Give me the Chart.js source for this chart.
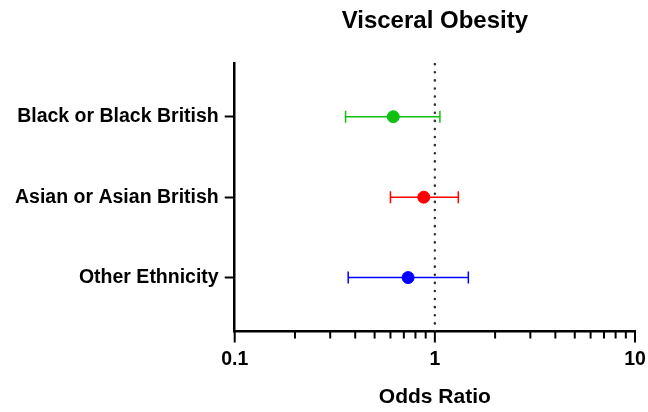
<!DOCTYPE html>
<html lang="en">
<head>
    <meta charset="UTF-8">
    <title>Visceral Obesity</title>
    <style>
        body { margin: 0; background: #fff; }
        #chart { display: block; }
    </style>
</head>
<body>
    <canvas id="chart" width="648" height="412"></canvas>

    <script src="https://cdn.jsdelivr.net/npm/chart.js"></script>
    <script>
        // data
        const categories = ['Black or Black British', 'Asian or Asian British', 'Other Ethnicity'];
        const oddsRatio = [0.62, 0.88, 0.735];
        const lowerCI = [0.358, 0.60, 0.369];
        const upperCI = [1.06, 1.31, 1.47];
        const colors = ['#10C010', '#FF0000', '#0000FF'];
        const xTickLabels = ['0.1', '1', '10'];
        const refValue = 1;

        const yMin = 0.33;
        const yMax = categories.length + 0.67;
        const fontFamily = 'Arial, "Liberation Sans", sans-serif';

        const datasets = [];

        // dotted reference line at OR = 1
        datasets.push({
            type: 'line',
            data: [{ x: refValue, y: yMin }, { x: refValue, y: yMax }],
            borderColor: '#333',
            borderWidth: 2.5,
            borderDash: [0.1, 8],
            borderCapStyle: 'round',
            pointRadius: 0,
            order: 10
        });

        categories.forEach(function(cat, i) {
            const y = categories.length - i;
            // error bar with caps
            datasets.push({
                type: 'line',
                data: [{ x: lowerCI[i], y: y }, { x: upperCI[i], y: y }],
                borderColor: colors[i],
                borderWidth: 1.5,
                pointStyle: 'line',
                pointRotation: 90,
                pointRadius: 6,
                pointBorderWidth: 1.5,
                pointBorderColor: colors[i],
                order: 2
            });
            // point estimate
            datasets.push({
                type: 'scatter',
                data: [{ x: oddsRatio[i], y: y }],
                backgroundColor: colors[i],
                borderColor: colors[i],
                pointRadius: 6,
                order: 1
            });
        });

        // log axis tick marks: long at decades, short in between
        const logTicksPlugin = {
            id: 'logTicks',
            afterDraw(chart) {
                const scale = chart.scales.x;
                const ctx = chart.ctx;
                const bottom = chart.chartArea.bottom;
                ctx.save();
                ctx.strokeStyle = '#000';
                ctx.lineWidth = 2;
                scale.ticks.forEach(function(t) {
                    const px = scale.getPixelForValue(t.value);
                    const major = Math.abs(Math.log10(t.value) - Math.round(Math.log10(t.value))) < 1e-6;
                    ctx.beginPath();
                    ctx.moveTo(px, bottom);
                    ctx.lineTo(px, bottom + (major ? 11 : 7));
                    ctx.stroke();
                });
                ctx.restore();
            }
        };

        new Chart(document.getElementById('chart'), {
            type: 'scatter',
            data: { datasets: datasets },
            options: {
                responsive: false,
                animation: false,
                layout: { padding: { left: 9, right: 13, top: 0, bottom: 4 } },
                plugins: {
                    legend: { display: false },
                    tooltip: { enabled: false }
                },
                scales: {
                    x: {
                        type: 'logarithmic',
                        min: 0.1,
                        max: 10,
                        afterBuildTicks(scale) {
                            const vals = [];
                            [0.1, 1].forEach(function(d) {
                                for (let k = 1; k < 10; k++) vals.push(k * d);
                            });
                            vals.push(10);
                            scale.ticks = vals.map(function(v) { return { value: v }; });
                        },
                        afterFit(scale) {
                            // let the end labels hang over the padding
                            scale.paddingLeft = 0;
                            scale.paddingRight = 0;
                        },
                        ticks: {
                            autoSkip: false,
                            maxRotation: 0,
                            padding: 18,
                            color: '#000',
                            font: { family: fontFamily, size: 19.5, weight: 'bold', lineHeight: 1.0 },
                            callback(value) {
                                const s = String(Number(value.toPrecision(6)));
                                return xTickLabels.includes(s) ? s : '';
                            }
                        },
                        grid: { display: false, drawTicks: false },
                        border: { display: true, color: '#000', width: 2.5 },
                        title: {
                            display: true,
                            text: 'Odds Ratio',
                            color: '#000',
                            font: { family: fontFamily, size: 21, weight: 'bold', lineHeight: 1.0 },
                            padding: { top: 0, bottom: 0 }
                        }
                    },
                    xTop: {
                        type: 'linear',
                        position: 'top',
                        min: 0,
                        max: 1,
                        grid: { display: false, drawTicks: false },
                        border: { display: false },
                        ticks: { display: false },
                        title: {
                            display: true,
                            text: 'Visceral Obesity',
                            color: '#000',
                            font: { family: fontFamily, size: 24, weight: 'bold' },
                            padding: { top: 7, bottom: 27 }
                        }
                    },
                    y: {
                        type: 'linear',
                        min: yMin,
                        max: yMax,
                        afterBuildTicks(scale) {
                            scale.ticks = categories.map(function(c, i) { return { value: categories.length - i }; });
                        },
                        ticks: {
                            autoSkip: false,
                            padding: 6,
                            color: '#000',
                            font: { family: fontFamily, size: 19.5, weight: 'bold' },
                            callback(value) {
                                return categories[categories.length - Math.round(value)];
                            }
                        },
                        grid: {
                            drawOnChartArea: false,
                            tickLength: 10,
                            tickWidth: 2,
                            tickColor: '#000'
                        },
                        border: { display: true, color: '#000', width: 2.5 }
                    }
                }
            },
            plugins: [logTicksPlugin]
        });
    </script>
</body>
</html>
